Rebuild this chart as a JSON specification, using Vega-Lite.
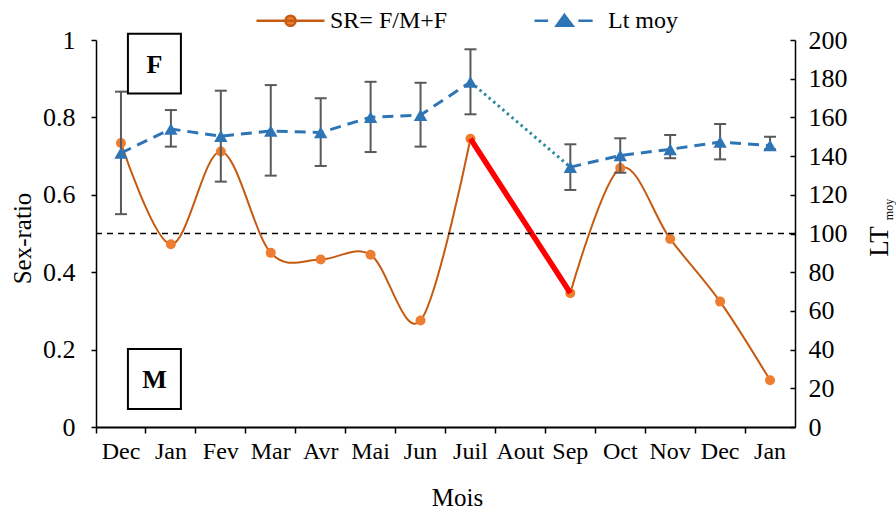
{
  "$schema": "https://vega.github.io/schema/vega-lite/v6.json",
  "width": 699,
  "height": 387,
  "autosize": "none",
  "padding": {"left": 96, "top": 40, "right": 101, "bottom": 86},
  "config": {
    "font": "Liberation Serif",
    "view": {"stroke": null},
    "text": {"font": "Liberation Serif"},
    "axis": {
      "labelFont": "Liberation Serif",
      "titleFont": "Liberation Serif",
      "labelFontSize": 24,
      "titleFontSize": 24,
      "titleFontWeight": "normal",
      "labelColor": "black",
      "titleColor": "black",
      "domainColor": "black",
      "tickColor": "black",
      "domainWidth": 1.5,
      "tickWidth": 1.5,
      "grid": false
    },
    "axisRight": {"labelOverlap": false},
    "legend": {"labelFont": "Liberation Serif", "titleFont": "Liberation Serif"}
  },
  "data": {
    "values": [
      {"k": "Dec|1", "sr": 0.734, "lt": 141.6, "lo": 110.0, "hi": 173.3},
      {"k": "Jan|1", "sr": 0.472, "lt": 154.0, "lo": 144.9, "hi": 163.8},
      {"k": "Fev|1", "sr": 0.712, "lt": 150.3, "lo": 126.8, "hi": 173.8},
      {"k": "Mar|1", "sr": 0.450, "lt": 153.0, "lo": 129.9, "hi": 176.7},
      {"k": "Avr|1", "sr": 0.433, "lt": 152.2, "lo": 134.9, "hi": 169.9},
      {"k": "Mai|1", "sr": 0.445, "lt": 160.1, "lo": 142.1, "hi": 178.4},
      {"k": "Jun|1", "sr": 0.275, "lt": 161.2, "lo": 144.9, "hi": 177.9},
      {"k": "Juil|1", "sr": 0.745, "lt": 178.3, "lo": 161.6, "hi": 195.2},
      {"k": "Aout|1", "sr": null, "lt": null, "lo": null, "hi": null},
      {"k": "Sep|1", "sr": 0.346, "lt": 134.3, "lo": 122.5, "hi": 146.1},
      {"k": "Oct|1", "sr": 0.669, "lt": 140.3, "lo": 131.4, "hi": 149.2},
      {"k": "Nov|1", "sr": 0.486, "lt": 143.5, "lo": 138.9, "hi": 150.9},
      {"k": "Dec|2", "sr": 0.324, "lt": 147.3, "lo": 138.3, "hi": 156.6},
      {"k": "Jan|2", "sr": 0.121, "lt": 145.5, "lo": 143.5, "hi": 150.0}
    ]
  },
  "layer": [
    {
      "encoding": {
        "x": {
          "field": "k", "type": "nominal", "sort": null,
          "scale": {"domain": ["Dec|1","Jan|1","Fev|1","Mar|1","Avr|1","Mai|1","Jun|1","Juil|1","Aout|1","Sep|1","Oct|1","Nov|1","Dec|2","Jan|2"], "paddingInner": 0, "paddingOuter": 0},
          "axis": {"orient": "bottom", "title": "Mois", "labelExpr": "split(datum.label, '|')[0]", "bandPosition": 0, "tickSize": 6, "labelPadding": 6, "labelAngle": 0, "domainWidth": 2, "labelFont": "Liberation Serif", "titleFont": "Liberation Serif", "titleFontSize": 25, "titleX": 361, "titleY": 70, "titleAlign": "center", "titleBaseline": "middle"}
        },
        "y": {
          "field": "sr", "type": "quantitative",
          "scale": {"domain": [0, 1], "nice": false},
          "axis": {"orient": "left", "values": [0, 0.2, 0.4, 0.6, 0.8, 1], "format": ".1~f", "tickSize": 5, "labelPadding": 16, "labelFontSize": 26, "labelOverlap": false, "labelFont": "Liberation Serif", "titleFont": "Liberation Serif", "title": "Sex-ratio", "titleFontSize": 25, "titleAngle": 270, "titleX": -74, "titleY": 198, "titleAlign": "center", "titleBaseline": "middle"}
        }
      },
      "layer": [
        {"mark": {"type": "line", "interpolate": "cardinal", "color": "#C55A11", "strokeWidth": 2}},
        {"mark": {"type": "point", "shape": "circle", "filled": true, "size": 100, "color": "#ED7D31", "opacity": 1}},
        {
          "transform": [{"filter": {"field": "k", "oneOf": ["Juil|1", "Sep|1"]}}],
          "mark": {"type": "line", "color": "#FF0000", "strokeWidth": 5.5}
        }
      ]
    },
    {
      "encoding": {
        "x": {
          "field": "k", "type": "nominal", "sort": null,
          "scale": {"domain": ["Dec|1","Jan|1","Fev|1","Mar|1","Avr|1","Mai|1","Jun|1","Juil|1","Aout|1","Sep|1","Oct|1","Nov|1","Dec|2","Jan|2"], "paddingInner": 0, "paddingOuter": 0},
          "axis": {"orient": "bottom", "title": "Mois", "labelExpr": "split(datum.label, '|')[0]", "bandPosition": 0, "tickSize": 6, "labelPadding": 6, "labelAngle": 0, "domainWidth": 2, "labelFont": "Liberation Serif", "titleFont": "Liberation Serif", "titleFontSize": 25, "titleX": 361, "titleY": 70, "titleAlign": "center", "titleBaseline": "middle"}
        }
      },
      "layer": [
        {
          "mark": {"type": "rule", "color": "#595959", "strokeWidth": 2},
          "encoding": {
            "y": {"field": "lo", "type": "quantitative", "scale": {"domain": [0, 200], "nice": false},
              "axis": {"orient": "right", "values": [0, 20, 40, 60, 80, 100, 120, 140, 160, 180, 200], "tickSize": -5, "labelPadding": 18, "labelAlign": "left", "labelFontSize": 26, "labelOverlap": false, "labelFont": "Liberation Serif", "titleFont": "Liberation Serif", "title": "LT", "titleFontSize": 27, "titleAngle": 270, "titleX": 84, "titleY": 201, "titleAlign": "center", "titleBaseline": "middle"}},
            "y2": {"field": "hi"}
          }
        },
        {
          "mark": {"type": "tick", "color": "#595959", "size": 12, "thickness": 2, "opacity": 1},
          "encoding": {"y": {"field": "lo", "type": "quantitative",
            "axis": {"orient": "right", "values": [0, 20, 40, 60, 80, 100, 120, 140, 160, 180, 200], "tickSize": -5, "labelPadding": 18, "labelAlign": "left", "labelFontSize": 26, "labelOverlap": false, "labelFont": "Liberation Serif", "titleFont": "Liberation Serif", "title": "LT", "titleFontSize": 27, "titleAngle": 270, "titleX": 84, "titleY": 201, "titleAlign": "center", "titleBaseline": "middle"}}}
        },
        {
          "mark": {"type": "tick", "color": "#595959", "size": 12, "thickness": 2, "opacity": 1},
          "encoding": {"y": {"field": "hi", "type": "quantitative",
            "axis": {"orient": "right", "values": [0, 20, 40, 60, 80, 100, 120, 140, 160, 180, 200], "tickSize": -5, "labelPadding": 18, "labelAlign": "left", "labelFontSize": 26, "labelOverlap": false, "labelFont": "Liberation Serif", "titleFont": "Liberation Serif", "title": "LT", "titleFontSize": 27, "titleAngle": 270, "titleX": 84, "titleY": 201, "titleAlign": "center", "titleBaseline": "middle"}}}
        },
        {
          "mark": {"type": "line", "color": "#2E75B6", "strokeWidth": 3, "strokeDash": [11, 7]},
          "encoding": {"y": {"field": "lt", "type": "quantitative",
            "axis": {"orient": "right", "values": [0, 20, 40, 60, 80, 100, 120, 140, 160, 180, 200], "tickSize": -5, "labelPadding": 18, "labelAlign": "left", "labelFontSize": 26, "labelOverlap": false, "labelFont": "Liberation Serif", "titleFont": "Liberation Serif", "title": "LT", "titleFontSize": 27, "titleAngle": 270, "titleX": 84, "titleY": 201, "titleAlign": "center", "titleBaseline": "middle"}}}
        },
        {
          "transform": [{"filter": {"field": "k", "oneOf": ["Juil|1", "Sep|1"]}}],
          "mark": {"type": "line", "color": "#2D8A9C", "strokeWidth": 3, "strokeDash": [2.5, 3.5]},
          "encoding": {"y": {"field": "lt", "type": "quantitative",
            "axis": {"orient": "right", "values": [0, 20, 40, 60, 80, 100, 120, 140, 160, 180, 200], "tickSize": -5, "labelPadding": 18, "labelAlign": "left", "labelFontSize": 26, "labelOverlap": false, "labelFont": "Liberation Serif", "titleFont": "Liberation Serif", "title": "LT", "titleFontSize": 27, "titleAngle": 270, "titleX": 84, "titleY": 201, "titleAlign": "center", "titleBaseline": "middle"}}}
        },
        {
          "mark": {"type": "point", "shape": "triangle-up", "filled": true, "size": 180, "color": "#2E75B6", "opacity": 1},
          "encoding": {"y": {"field": "lt", "type": "quantitative",
            "axis": {"orient": "right", "values": [0, 20, 40, 60, 80, 100, 120, 140, 160, 180, 200], "tickSize": -5, "labelPadding": 18, "labelAlign": "left", "labelFontSize": 26, "labelOverlap": false, "labelFont": "Liberation Serif", "titleFont": "Liberation Serif", "title": "LT", "titleFontSize": 27, "titleAngle": 270, "titleX": 84, "titleY": 201, "titleAlign": "center", "titleBaseline": "middle"}}}
        }
      ]
    },
    {
      "encoding": {
        "y": {"field": "pos", "type": "quantitative", "scale": {"domain": [0, 1], "nice": false},
          "axis": {"orient": "right", "title": "moy", "labels": false, "ticks": false, "domain": false, "titleFont": "Liberation Serif", "titleFontSize": 12, "titleAngle": 270, "titleX": 93, "titleY": 169, "titleAlign": "center", "titleBaseline": "middle"}}
      },
      "layer": [
        {
          "data": {"values": [{"pos": 0.5}]},
          "mark": {"type": "rule", "color": "black", "strokeWidth": 1.5, "strokeDash": [6, 5]}
        },
        {
          "data": {"values": [{"k": "Jan|1", "sexe": "F", "pos": 0.939}, {"k": "Jan|1", "sexe": "M", "pos": 0.124}]},
          "encoding": {
            "x": {
              "field": "k", "type": "nominal", "sort": null, "bandPosition": 0.17,
              "scale": {"domain": ["Dec|1","Jan|1","Fev|1","Mar|1","Avr|1","Mai|1","Jun|1","Juil|1","Aout|1","Sep|1","Oct|1","Nov|1","Dec|2","Jan|2"], "paddingInner": 0, "paddingOuter": 0},
              "axis": {"orient": "bottom", "title": "Mois", "labelExpr": "split(datum.label, '|')[0]", "bandPosition": 0, "tickSize": 6, "labelPadding": 6, "labelAngle": 0, "domainWidth": 2, "labelFont": "Liberation Serif", "titleFont": "Liberation Serif", "titleFontSize": 25, "titleX": 361, "titleY": 70, "titleAlign": "center", "titleBaseline": "middle"}
            }
          },
          "layer": [
            {"mark": {"type": "point", "shape": "M-1,-1.13L1,-1.13L1,1.13L-1,1.13Z", "size": 2809, "filled": true, "fill": "white", "stroke": "black", "strokeWidth": 2, "opacity": 1}},
            {"mark": {"type": "text", "font": "Liberation Serif", "fontWeight": "bold", "fontSize": 26, "color": "black", "baseline": "middle", "align": "center", "dy": 1},
             "encoding": {"text": {"field": "sexe"}}}
          ]
        },
        {
          "data": {"values": []},
          "mark": {"type": "point", "filled": true, "opacity": 1},
          "encoding": {
            "color": {"field": "series", "type": "nominal",
              "scale": {"domain": ["SR= F/M+F", "Lt moy"], "range": ["#ED7D31", "#2E75B6"]},
              "legend": {"orient": "none", "legendX": 159, "legendY": -55, "direction": "horizontal", "title": null, "symbolSize": 4624, "symbolStrokeWidth": 2.5, "labelFont": "Liberation Serif", "labelFontSize": 24, "labelColor": "black", "labelOffset": 4, "columnPadding": 81}},
            "stroke": {"field": "series", "type": "nominal",
              "scale": {"domain": ["SR= F/M+F", "Lt moy"], "range": ["#C55A11", "#2E75B6"]},
              "legend": {"orient": "none", "legendX": 159, "legendY": -55, "direction": "horizontal", "title": null, "symbolSize": 4624, "symbolStrokeWidth": 2.5, "labelFont": "Liberation Serif", "labelFontSize": 24, "labelColor": "black", "labelOffset": 4, "columnPadding": 81}},
            "shape": {"field": "series", "type": "nominal",
              "scale": {"domain": ["SR= F/M+F", "Lt moy"], "range": ["M-1,0L1,0M-0.15,0A0.15,0.15 0 1,0 0.15,0A0.15,0.15 0 1,0 -0.15,0Z", "M-1,0L-0.6,0M0.29,0L0.71,0M-0.12,-0.17L0.12,0.15L-0.35,0.15Z"]},
              "legend": {"orient": "none", "legendX": 159, "legendY": -55, "direction": "horizontal", "title": null, "symbolSize": 4624, "symbolStrokeWidth": 2.5, "labelFont": "Liberation Serif", "labelFontSize": 24, "labelColor": "black", "labelOffset": 4, "columnPadding": 81}}
          }
        }
      ]
    }
  ],
  "resolve": {"scale": {"y": "independent"}}
}
